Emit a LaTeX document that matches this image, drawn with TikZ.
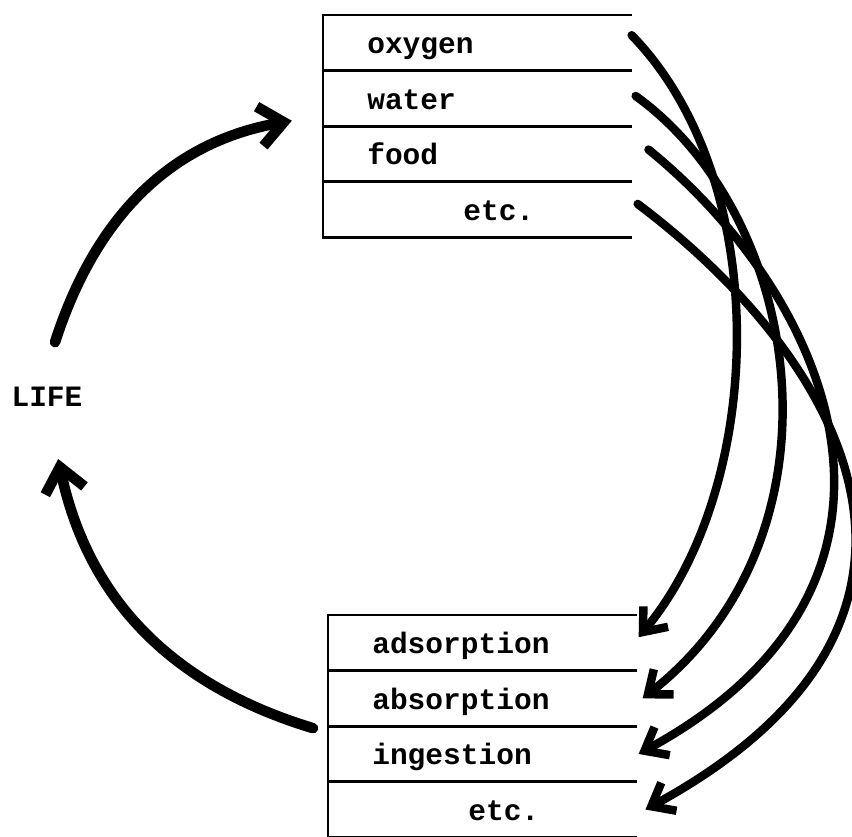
\documentclass[tikz,border=0pt]{standalone}
\usepackage{fontspec}
\setmonofont{Liberation Mono}
\usetikzlibrary{arrows.meta}
\usetikzlibrary{positioning}

\begin{document}
\begin{tikzpicture}[
 x=0.025cm, y=-0.025cm,
 row/.style = {rectangle, minimum height=1.375cm, text width=5.5cm, inner xsep=1.1cm,
               inner ysep=0pt, text height=0.85cm, text depth=0.3cm, align=left,
               font=\ttfamily\bfseries\fontsize{21}{25}\selectfont},
 word/.style = {inner sep=0pt, font=\ttfamily\bfseries\fontsize{21}{25}\selectfont},
 boxline/.style = {line width=2pt},
 cyclearrow/.style = {line width=7.5pt, line cap=round, -{Straight Barb[length=6mm, width=10mm]}},
 linkarrow/.style = {line width=6pt, line cap=round, -{Straight Barb[length=5mm, width=8mm]}},
                        ]
    \useasboundingbox (0,0) rectangle (852,836);

    % needs
    \node [row, anchor=north west] at (323,15) (oxy) {oxygen};
    \node [row, below=0pt of oxy] (wat) {water};
    \node [row, below=0pt of wat] (food) {food};
    \node [row, below=0pt of food] (etcA) {\hspace*{2.4cm}etc.};
    \draw [boxline] (oxy.north east) -- (oxy.north west) -- (etcA.south west) -- (etcA.south east);
    \foreach \n in {oxy,wat,food}
        \draw [boxline] (\n.south west) -- (\n.south east);

    % processes
    \node [row, anchor=north west] at (328,615) (adso) {adsorption};
    \node [row, below=0pt of adso] (abso) {absorption};
    \node [row, below=0pt of abso] (inge) {ingestion};
    \node [row, below=0pt of inge] (etcB) {\hspace*{2.4cm}etc.};
    \draw [boxline] (adso.north east) -- (adso.north west) -- (etcB.south west) -- (etcB.south east);
    \foreach \n in {adso,abso,inge}
        \draw [boxline] (\n.south west) -- (\n.south east);

    \node [word] at (47,397) (life) {LIFE};

    \draw [cyclearrow] ([xshift=0.2cm, yshift=1.12cm]life.north)
        .. controls +(39,-121) and +(-125,22) .. ([xshift=-0.78cm, yshift=-0.56cm]wat.west);
    \draw [cyclearrow] ([xshift=-0.375cm, yshift=-0.05cm]abso.south west)
        .. controls +(-139,-42) and +(30,142) .. ([xshift=0.28cm, yshift=-1.3cm]life.south);

    \draw [linkarrow] ([yshift=0.19cm]oxy.east)
        .. controls +(142,146) and +(127,-153) .. ([xshift=0.05cm, yshift=0.14cm]adso.east);
    \draw [linkarrow] ([xshift=0.1cm, yshift=0.06cm]wat.east)
        .. controls +(168,121) and +(209,-164) .. ([xshift=0.15cm]abso.east);
    \draw [linkarrow] ([xshift=0.42cm, yshift=0.11cm]food.east)
        .. controls +(180,146) and +(317,-173) .. ([xshift=0.05cm]inge.east);
    \draw [linkarrow] ([xshift=0.15cm, yshift=0.14cm]etcA.east)
        .. controls +(202,152) and +(352,-192) .. ([xshift=0.22cm]etcB.east);
\end{tikzpicture}
\end{document}
